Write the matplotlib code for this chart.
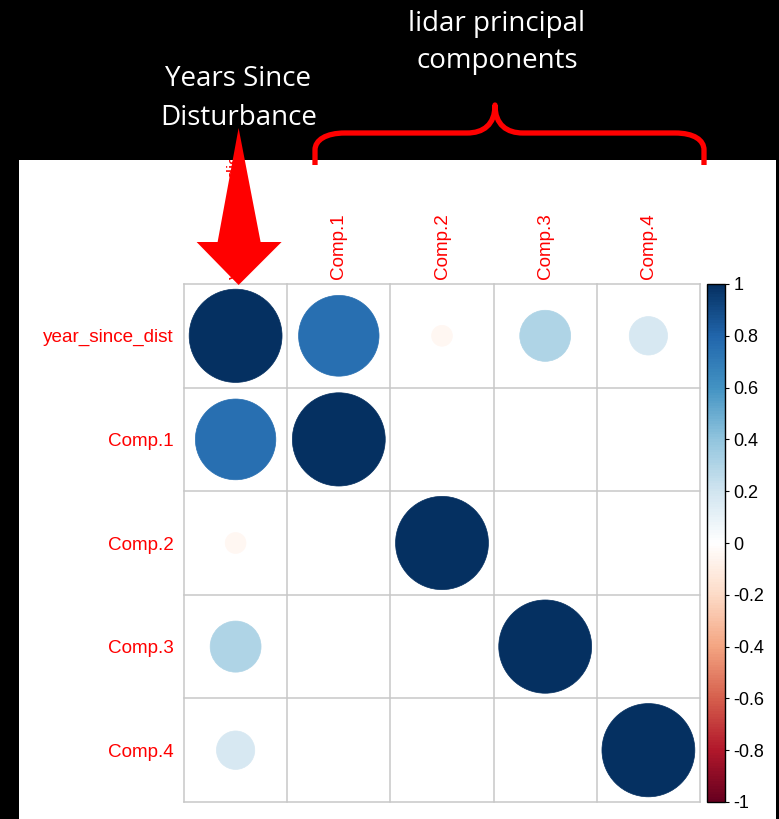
import numpy as np
import matplotlib
matplotlib.use("Agg")
import matplotlib.pyplot as plt
from matplotlib.colors import LinearSegmentedColormap, Normalize
from matplotlib.cm import ScalarMappable
from matplotlib.patches import Rectangle, Circle, Polygon, PathPatch
from matplotlib.path import Path
from matplotlib.transforms import Affine2D
from matplotlib.ticker import FixedFormatter

# Correlation matrix: years since disturbance vs. lidar principal components
variables = ["year_since_dist", "Comp.1", "Comp.2", "Comp.3", "Comp.4"]
year_corr = [1.0, 0.75, -0.05, 0.30, 0.17]
corr = np.eye(len(variables))
corr[0, :] = year_corr
corr[:, 0] = year_corr

cbar_ticks = [-1, -0.8, -0.6, -0.4, -0.2, 0, 0.2, 0.4, 0.6, 0.8, 1]
cbar_labels = ["-1", "-0.8", "-0.6", "-0.4", "-0.2", "0", "0.2", "0.4", "0.6", "0.8", "1"]

rdbu = ["#67001F", "#B2182B", "#D6604D", "#F4A582", "#FDDBC7", "#FFFFFF",
        "#D1E5F0", "#92C5DE", "#4393C3", "#2166AC", "#053061"]
cmap = LinearSegmentedColormap.from_list("RdBu_corr", rdbu, N=200)
norm = Normalize(-1, 1)

W, H = 779, 819
fig = plt.figure(figsize=(W / 100, H / 100), dpi=100, facecolor="black")
# pixel coordinates with origin at top-left
px = Affine2D().scale(1 / W, -1 / H).translate(0, 1) + fig.transFigure

panel = Rectangle((19, 160), 757, 670, transform=px, facecolor="white",
                  edgecolor="none", zorder=-5)
fig.patches.append(panel)

label_font = ["Liberation Sans", "DejaVu Sans"]
label_color = "#FF0000"
n = len(variables)

ax = fig.add_axes([184 / W, 1 - 802 / H, 516 / W, 518 / H])
ax.set_zorder(1)
ax.patch.set_visible(False)
ax.set_xlim(0, n)
ax.set_ylim(n, 0)
ax.axis("off")

for k in range(n + 1):
    ax.plot([k, k], [0, n], color="#C8C8C8", lw=1.1, zorder=1, clip_on=False)
    ax.plot([0, n], [k, k], color="#C8C8C8", lw=1.1, zorder=1, clip_on=False)

for i in range(n):
    for j in range(n):
        r = corr[i, j]
        if r == 0:
            continue
        rad = 0.45 * np.sqrt(abs(r))
        c = cmap(norm(r))
        ax.add_patch(Circle((j + 0.5, i + 0.5), rad, facecolor=c,
                            edgecolor=c, lw=0.5, zorder=2))

for i, name in enumerate(variables):
    ax.annotate(name, xy=(0, i + 0.5), xytext=(-7.5, -1.5), textcoords="offset points",
                ha="right", va="center", color=label_color, fontsize=13.6,
                family=label_font)
for j, name in enumerate(variables):
    t = ax.annotate(name, xy=(j + 0.5, 0), xytext=(0, 3.6), textcoords="offset points",
                    ha="center", va="bottom", rotation=90, color=label_color,
                    fontsize=13.6, family=label_font)
    t.set_clip_path(panel)
    t.set_clip_on(True)

cax = fig.add_axes([707 / W, 1 - 802 / H, 18 / W, 518 / H])
cax.set_zorder(1)
cb = fig.colorbar(ScalarMappable(norm=norm, cmap=cmap), cax=cax, ticks=cbar_ticks)
cb.ax.yaxis.set_major_formatter(FixedFormatter(cbar_labels))
cb.outline.set_linewidth(1.0)
cb.outline.set_edgecolor("black")
cb.ax.tick_params(length=3, width=0.8, pad=3, labelsize=13, colors="black")
for lab in cb.ax.get_yticklabels():
    lab.set_family(label_font)

# Arrow pointing down at the first column (x in top-left pixel coordinates)
col0_x = ax.transData.transform((0.5, 0))[0]
tip_x = col0_x + 3
arrow = Polygon([(tip_x, 128), (tip_x - 21, 242), (tip_x - 42, 242), (tip_x, 285),
                 (tip_x + 43, 242), (tip_x + 22, 242)], closed=True,
                transform=px, facecolor="#FF0000", edgecolor="none", zorder=10)
fig.patches.append(arrow)

# Curly brace above the principal-component columns
cx = 495
verts = [(315, 165), (315, 150), (315, 140), (326, 133), (345, 133),
         (467, 133), (483, 133), (cx, 125), (cx, 105),
         (cx, 125), (507, 133), (523, 133),
         (675, 133), (694, 133), (704, 140), (704, 150), (704, 165)]
codes = [Path.MOVETO, Path.LINETO, Path.CURVE4, Path.CURVE4, Path.CURVE4,
         Path.LINETO, Path.CURVE4, Path.CURVE4, Path.CURVE4,
         Path.CURVE4, Path.CURVE4, Path.CURVE4,
         Path.LINETO, Path.CURVE4, Path.CURVE4, Path.CURVE4, Path.LINETO]
brace = PathPatch(Path(verts, codes), transform=px, facecolor="none",
                  edgecolor="#FF0000", lw=3.8, zorder=-1, capstyle="butt",
                  joinstyle="round")
fig.patches.append(brace)

title_font = ["Open Sans", "DejaVu Sans"]
for txt, x, y in [("Years Since", 238, 86), ("Disturbance", 239, 125),
                  ("lidar principal", 497, 31), ("components", 497, 68)]:
    fig.text(x / W, 1 - y / H, txt, ha="center", va="baseline",
             color="white", fontsize=20, family=title_font)

fig.savefig("out.png", dpi=100, facecolor="black")
